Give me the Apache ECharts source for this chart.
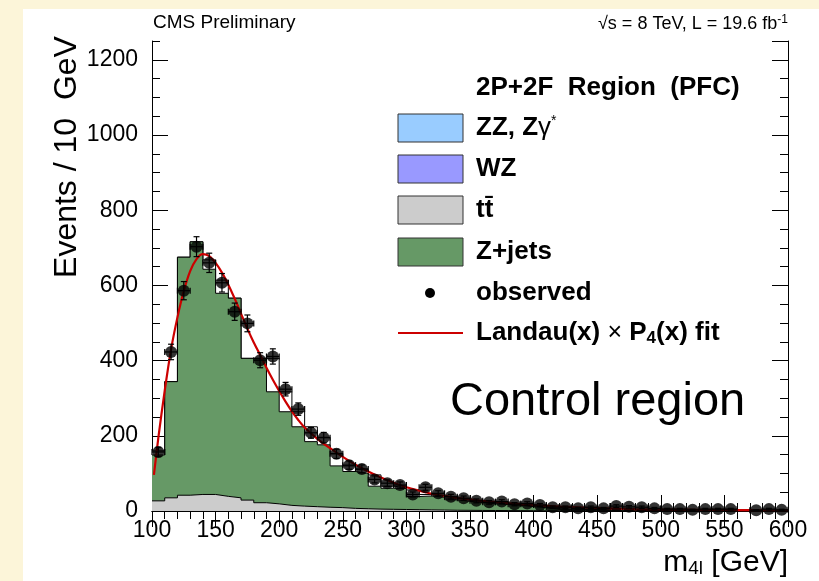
<!DOCTYPE html>
<html><head><meta charset="utf-8">
<script src="https://cdn.jsdelivr.net/npm/echarts@6/dist/echarts.min.js"></script>
<style>html,body{margin:0;padding:0;background:#fcf5d9;}#c{width:819px;height:581px;}</style>
</head><body><div id="c"></div>
<script>
// ---- data ----
const binLow = [100,110,120,130,140,150,160,170,180,190,200,210,220,230,240,250,260,270,280,290,
                300,310,320,330,340,350,360,370,380,390,400,410,420,430,440,450,460,470,480,490,
                500,510,520,530,540,550,560,570,580,590];
const binHigh = 600;
const observed = [157,423,586,703,660,607,530,499,401,411,324,271,208,195,152,122,112,84,74,69,
                  44,63,47,38,34,27,23,25,18,20,16,10,10,7,10,7,13,11,10,7,
                  5,5,3,5,5,5,0,2,5,3];
const observedErr = [12.5,20.6,24.2,26.5,25.7,24.6,23.0,22.3,20.0,20.3,18.0,16.5,14.4,14.0,12.3,11.0,10.6,9.2,8.6,8.3,
                     6.6,7.9,6.9,6.2,5.8,5.2,4.8,5.0,4.2,4.5,4.0,3.2,3.2,2.6,3.2,2.6,3.6,3.3,3.2,2.6,
                     2.2,2.2,1.7,2.2,2.2,2.2,0,1.4,2.2,1.7];
const ttbar = [27,35,42,44,44,39,35,29,22,19,15,13,11.5,10,9,7,6,5,4.5,4,
               3.5,3,2.5,2,1.8,1.5,1.3,1.1,1,0.8,0.7,0.6,0.5,0.4,0.4,0.3,0.3,0.3,0.2,0.2,
               0.2,0.2,0.1,0.1,0.1,0.1,0.1,0.1,0.1,0.1];
const zjets = [122,309,633,672,599,540,531,377,384,298,249,211,173,166,111,98,94,61,56,56,
               35,37,34,28,24,21,18,16,14,11,8,4.4,2.5,2.6,2.6,1.7,1.7,1.7,0.8,0.8,
               0.8,0.8,0.9,0.9,0.9,0.9,0.9,0.9,0.9,0.9];
const totalMC = [160,344,675,716,668,614,566,406,406,406,317,264,224,196,153,120,110,96,66,62,
                 56,44,40,34,29,25,22,19,17,14,11,6,5,4,4,3,3,3,2,2,
                 2,2,1.5,1.5,1.5,1.5,1,1,1,1];
const fitX = [101.5,105,110,115,120,125,130,135,140,145,150,155,160,165,170,175,180,185,190,195,
              200,205,210,215,220,230,240,250,260,270,280,290,300,310,320,330,340,350,360,380,
              400,420,440,460,480,500,520,540,560,580,600];
const fitY = [96,195,320,430,515,585,638,670,683,678,660,634,602,565,525,485,448,415,381,349,
              319,291,265,242,222,192,167,144,123,105,89,75,63,54,46,40,35,31,27,21,
              16,12,9,7,5,4,3.5,3,2.5,2,2];
const xTickInterval = 50, yTickInterval = 200;

// ---- helpers ----
const FF = '"Liberation Sans", Arial, Helvetica, sans-serif';
function stepData(vals){ return binLow.map((x,i)=>[x, vals[i]]).concat([[binHigh, vals[vals.length-1]]]); }
// stacked top of Z+jets on ttbar (THStack order)
const zjetsStackTop = zjets.map((v,i)=>v + ttbar[i]);

const chart = echarts.init(document.getElementById('c'), null, {renderer:'canvas'});

const axisLineS = {show:true, lineStyle:{color:'#000', width:1}};
function xAx(pos, labels){
  return {type:'value', position:pos, min:100, max:600, interval:xTickInterval,
    axisLine:axisLineS, splitLine:{show:false},
    axisTick:{show:true, inside:true, length:16, lineStyle:{color:'#000'}},
    minorTick:{show:true, splitNumber:5, length:8, lineStyle:{color:'#000'}},
    axisLabel:{show:labels, color:'#000', fontSize:23, fontFamily:FF, margin:8, formatter:v=>String(v)}};
}
function yAx(pos, major, labels){
  return {type:'value', position:pos, min:0, max:1250, interval: major ? yTickInterval : 50,
    axisLine: major ? axisLineS : {show:false}, splitLine:{show:false},
    axisTick:{show:true, inside:true, length: major?16:8, lineStyle:{color:'#000'}},
    axisLabel:{show:labels, color:'#000', fontSize:23, fontFamily:FF, margin:14, showMaxLabel:false, formatter:v=>String(v)}};
}

const LF = 'bold 26px ' + FF;
const legendY = [128,169,210,252,293,333];
const boxes = [
  {c:'#99ccff'}, {c:'#9999ff'}, {c:'#cccccc'}, {c:'#669966'}
];
const graphics = [
  {type:'rect', z:-10, shape:{x:23,y:9,width:819,height:581}, style:{fill:'#fff'}, silent:true},
  {type:'text', style:{text:'CMS Preliminary', x:153, y:23, font:'19px '+FF, fill:'#000', textVerticalAlign:'middle'}},
  {type:'text', style:{text:'{a|√s = 8 TeV, L = 19.6 fb}{s|-1}', x:788, y:14, textAlign:'right', textVerticalAlign:'top', fill:'#000', font:'18px '+FF,
     rich:{a:{font:'18px '+FF, lineHeight:20}, s:{font:'12px '+FF, lineHeight:6, verticalAlign:'top'}}}},
  {type:'text', style:{text:'2P+2F  Region  (PFC)', x:476, y:88, font:LF, fill:'#000', textVerticalAlign:'middle'}},
  {type:'text', style:{text:'{b|ZZ, Z}{g|γ}{s|*}', x:476, y:legendY[0], fill:'#000', font:LF, textVerticalAlign:'middle',
     rich:{b:{font:LF, lineHeight:28}, g:{font:'26px '+FF, lineHeight:28}, s:{font:'14px '+FF, lineHeight:4, verticalAlign:'top'}}}},
  {type:'text', style:{text:'WZ', x:476, y:legendY[1], font:LF, fill:'#000', textVerticalAlign:'middle'}},
  {type:'text', style:{text:'tt\u0304', x:476, y:legendY[2], font:LF, fill:'#000', textVerticalAlign:'middle'}},
  {type:'text', style:{text:'Z+jets', x:476, y:legendY[3], font:LF, fill:'#000', textVerticalAlign:'middle'}},
  {type:'text', style:{text:'observed', x:476, y:legendY[4], font:LF, fill:'#000', textVerticalAlign:'middle'}},
  {type:'text', style:{text:'{b|Landau(x) }{t|×}{b| P}{u|4}{b|(x) fit}', x:476, y:legendY[5], fill:'#000', font:LF, textVerticalAlign:'middle',
     rich:{b:{font:LF, lineHeight:28}, t:{font:'25px '+FF, lineHeight:28}, u:{font:'bold 17px '+FF, lineHeight:4, verticalAlign:'bottom'}}}},
  {type:'circle', shape:{cx:430, cy:legendY[4], r:5}, style:{fill:'#000'}},
  {type:'line', shape:{x1:398, y1:legendY[5], x2:463, y2:legendY[5]}, style:{stroke:'#cc0000', lineWidth:2}},
  {type:'text', style:{text:'Control region', x:450, y:402, font:'47px '+FF, fill:'#000', textVerticalAlign:'middle'}},
  {type:'text', rotation:Math.PI/2, x:67, y:157, style:{text:'Events / 10  GeV', x:0, y:0, font:'32px '+FF, fill:'#000', textAlign:'center', textVerticalAlign:'middle'}},
  {type:'text', style:{text:'{m|m}{u|4l}{m| [GeV]}', x:788, y:563, textAlign:'right', textVerticalAlign:'middle', fill:'#000', font:'30px '+FF,
     rich:{m:{font:'30px '+FF, lineHeight:30}, u:{font:'19px '+FF, lineHeight:6, verticalAlign:'bottom'}}}}
];
boxes.forEach((b,i)=>{
  graphics.push({type:'rect', shape:{x:398, y:legendY[i]-14, width:65, height:28}, style:{fill:b.c, stroke:'#333', lineWidth:1}});
});

const option = {
  animation:false,
  backgroundColor:'#fcf5d9',
  grid:{left:152, right:31, top:41, bottom:70, containLabel:false},
  xAxis:[xAx('bottom', true), xAx('top', false)],
  yAxis:[yAx('left', true, true), yAx('left', false, false), yAx('right', true, false), yAx('right', false, false)],
  graphic: graphics,
  series:[
    {name:'total', type:'line', step:'end', data:stepData(totalMC), showSymbol:false, symbol:'none',
     lineStyle:{color:'#000', width:1}, areaStyle:{color:'#ffffff', opacity:1}, z:2},
    {name:'Z+jets', type:'line', step:'end', data:stepData(zjetsStackTop), showSymbol:false, symbol:'none',
     lineStyle:{color:'#000', width:1}, areaStyle:{color:'#669966', opacity:1}, z:3},
    {name:'ttbar', type:'line', step:'end', data:stepData(ttbar), showSymbol:false, symbol:'none',
     lineStyle:{color:'#000', width:1}, areaStyle:{color:'#cccccc', opacity:1}, z:3},
    {name:'fit', type:'line', data:fitX.map((x,i)=>[x, fitY[i]]), smooth:0.3, showSymbol:false, symbol:'none',
     lineStyle:{color:'#cc0000', width:2.2}, z:4},
    {name:'errors', type:'custom', z:5,
     data: observed.map((v,i)=>[binLow[i]+5, v, observedErr[i]]).filter(d=>d[1]>0),
     renderItem:function(params, api){
       const x=api.value(0), y=api.value(1), e=api.value(2);
       const t=api.coord([x,y+e]), b=api.coord([x,Math.max(y-e,0)]), l=api.coord([x-5,y]), r=api.coord([x+5,y]);
       const c=3, st={stroke:'#000', lineWidth:1.2};
       return {type:'group', children:[
         {type:'line', shape:{x1:t[0],y1:t[1],x2:b[0],y2:b[1]}, style:st},
         {type:'line', shape:{x1:t[0]-c,y1:t[1],x2:t[0]+c,y2:t[1]}, style:st},
         {type:'line', shape:{x1:b[0]-c,y1:b[1],x2:b[0]+c,y2:b[1]}, style:st},
         {type:'line', shape:{x1:l[0],y1:l[1],x2:r[0],y2:r[1]}, style:st},
         {type:'line', shape:{x1:l[0],y1:l[1]-c,x2:l[0],y2:l[1]+c}, style:st},
         {type:'line', shape:{x1:r[0],y1:r[1]-c,x2:r[0],y2:r[1]+c}, style:st}
       ]};
     }},
    {name:'observed', type:'scatter', z:6, symbol:'circle', symbolSize:12,
     data: observed.map((v,i)=>[binLow[i]+5, v]).filter(d=>d[1]>0),
     itemStyle:{color:'#000'}}
  ]
};
chart.setOption(option);
</script></body></html>
